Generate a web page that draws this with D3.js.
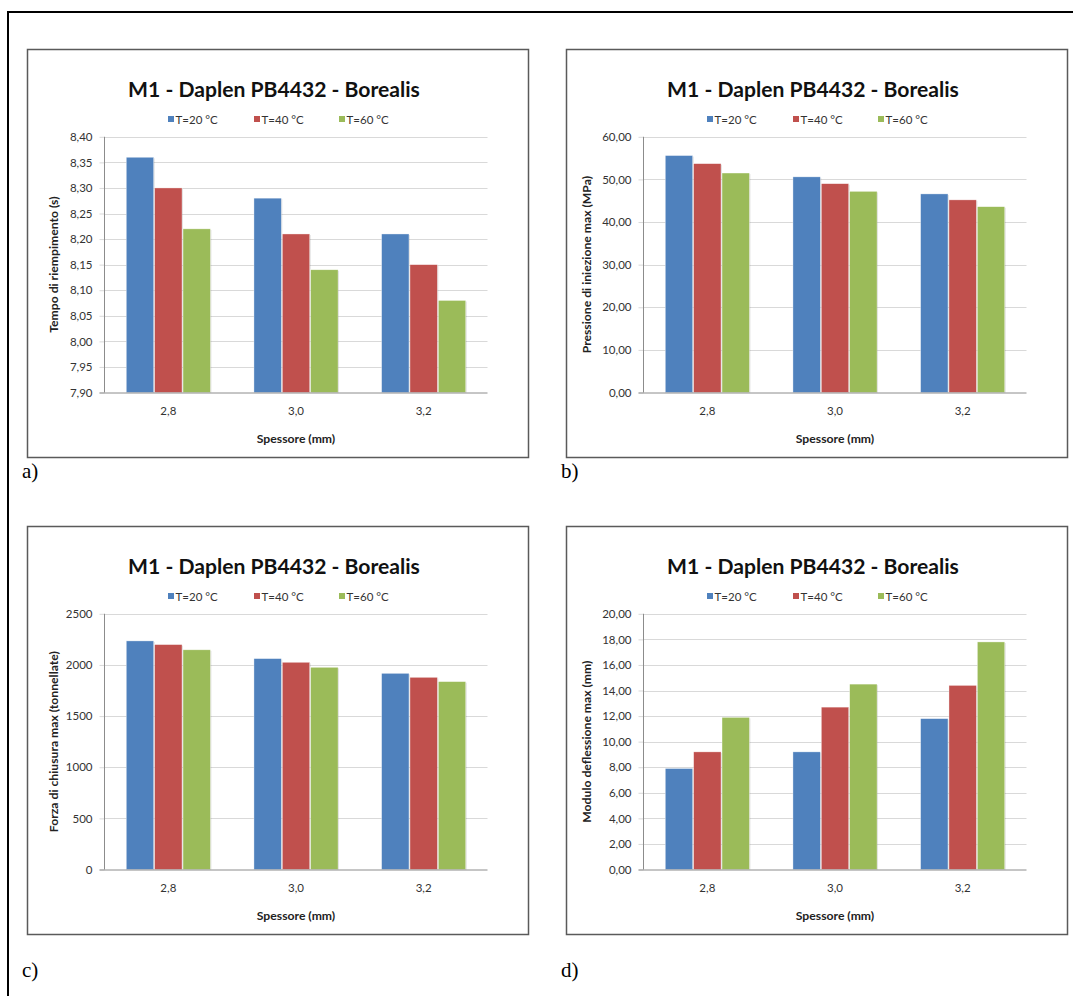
<!DOCTYPE html>
<html>
<head>
<meta charset="utf-8">
<script src="https://cdn.jsdelivr.net/npm/d3@7"></script>
<style>
  html, body { margin: 0; padding: 0; background: #fff; }
  svg { display: block; }
</style>
</head>
<body>
<svg id="root" width="1073" height="996"></svg>
<script>
// ---------- DATA ----------
const categories = ["2,8", "3,0", "3,2"];
const seriesNames = ["T=20 °C", "T=40 °C", "T=60 °C"];
const seriesColors = ["#4F81BD", "#C0504D", "#9BBB59"];

const chartTitle = "M1 - Daplen PB4432 - Borealis";
const xAxisTitle = "Spessore (mm)";

// a) Tempo di riempimento (s)  [series][category]
const tempo20 = [8.36, 8.28, 8.21];
const tempo40 = [8.30, 8.21, 8.15];
const tempo60 = [8.22, 8.14, 8.08];
const tempoTicks = [7.90, 7.95, 8.00, 8.05, 8.10, 8.15, 8.20, 8.25, 8.30, 8.35, 8.40];

// b) Pressione di iniezione max (MPa)
const press20 = [55.6, 50.6, 46.6];
const press40 = [53.7, 49.0, 45.2];
const press60 = [51.5, 47.2, 43.6];
const pressTicks = [0, 10, 20, 30, 40, 50, 60];

// c) Forza di chiusura max (tonnellate)
const forza20 = [2235, 2062, 1918];
const forza40 = [2199, 2026, 1879];
const forza60 = [2148, 1977, 1837];
const forzaTicks = [0, 500, 1000, 1500, 2000, 2500];

// d) Modulo deflessione max (mm)
const defl20 = [7.9, 9.2, 11.8];
const defl40 = [9.2, 12.7, 14.4];
const defl60 = [11.9, 14.5, 17.8];
const deflTicks = [0, 2, 4, 6, 8, 10, 12, 14, 16, 18, 20];

const panelLabels = ["a)", "b)", "c)", "d)"];

// ---------- LAYOUT ----------
const svg = d3.select("#root");
const FONT = "Lato, 'Open Sans', sans-serif";

// outer page frame
svg.append("rect")
  .attr("x", 8).attr("y", 12)
  .attr("width", 1120).attr("height", 1100)
  .attr("fill", "none").attr("stroke", "#000").attr("stroke-width", 2);

const frameW = 501, frameH = 408;
const panels = [
  { x: 27,  y: 49,  yTitle: "Tempo di riempimento (s)", series: [tempo20, tempo40, tempo60], ticks: tempoTicks, fmt: v => d3.format(".2f")(v).replace(".", ","), label: { x: 22, y: 478 } },
  { x: 566, y: 49,  yTitle: "Pressione di iniezione max (MPa)", series: [press20, press40, press60], ticks: pressTicks, fmt: v => d3.format(".2f")(v).replace(".", ","), label: { x: 561, y: 478 } },
  { x: 27,  y: 526, yTitle: "Forza di chiusura max (tonnellate)", series: [forza20, forza40, forza60], ticks: forzaTicks, fmt: v => d3.format("d")(v), label: { x: 22, y: 977 } },
  { x: 566, y: 526, yTitle: "Modulo deflessione max (mm)", series: [defl20, defl40, defl60], ticks: deflTicks, fmt: v => d3.format(".2f")(v).replace(".", ","), label: { x: 561, y: 977 } }
];

const plotL = 77.5, plotR = 460.5, plotT = 87.8, plotB = 343.5;

panels.forEach((p, pi) => {
  const g = svg.append("g").attr("transform", `translate(${p.x},${p.y})`);

  // chart frame
  g.append("rect")
    .attr("x", 0.5).attr("y", 0.5)
    .attr("width", frameW).attr("height", frameH)
    .attr("fill", "#fff").attr("stroke", "#5a5a5a").attr("stroke-width", 1.5);

  const ticks = p.ticks;
  const y = d3.scaleLinear().domain([ticks[0], ticks[ticks.length - 1]]).range([plotB, plotT]);
  const x0 = d3.scaleBand().domain(categories).range([plotL, plotR]).paddingInner(1 / 3).paddingOuter(1 / 6);
  const x1 = d3.scaleBand().domain(seriesNames).range([0, x0.bandwidth()]);

  // tick marks + labels
  const yAxis = d3.axisLeft(y).tickValues(ticks).tickFormat(p.fmt).tickSize(5).tickPadding(7);
  const ya = g.append("g").attr("transform", `translate(${plotL},0)`).call(yAxis);
  ya.select(".domain").remove();
  ya.selectAll(".tick line").attr("stroke", "#d9d9d9");
  ya.selectAll(".tick text").attr("font-family", FONT).attr("font-size", 11.5).attr("fill", "#333");

  // gridlines
  g.append("g").selectAll("line.grid").data(ticks.slice(1)).join("line")
    .attr("x1", plotL).attr("x2", plotR)
    .attr("y1", d => Math.round(y(d)) + 0.5).attr("y2", d => Math.round(y(d)) + 0.5)
    .attr("stroke", "#d9d9d9").attr("stroke-width", 1);

  // bar shadows + bars
  const bars = g.append("g");
  p.series.forEach((vals, si) => {
    bars.selectAll(null).data(vals).join("rect")
      .attr("x", (d, ci) => x0(categories[ci]) + x1(seriesNames[si]) + 1.5)
      .attr("width", x1.bandwidth() - 1)
      .attr("y", d => y(d) + 1)
      .attr("height", d => plotB - y(d) - 1)
      .attr("fill", "#000").attr("opacity", 0.12);
  });
  p.series.forEach((vals, si) => {
    bars.selectAll(null).data(vals).join("rect")
      .attr("x", (d, ci) => x0(categories[ci]) + x1(seriesNames[si]) + 0.5)
      .attr("width", x1.bandwidth() - 1)
      .attr("y", d => y(d))
      .attr("height", d => plotB - y(d))
      .attr("fill", seriesColors[si])
      .attr("stroke", "rgba(255,255,255,0.6)").attr("stroke-width", 0.6);
  });

  // axes lines
  g.append("line").attr("x1", plotL).attr("x2", plotL).attr("y1", plotT).attr("y2", plotB)
    .attr("stroke", "#8c8c8c").attr("stroke-width", 1);
  const xAxis = d3.axisBottom(x0).tickSize(0).tickPadding(14);
  const xa = g.append("g").attr("transform", `translate(0,${plotB})`).call(xAxis);
  xa.select(".domain").attr("stroke", "#8c8c8c").attr("d", `M${plotL - 5},0.5H${plotR}`);
  xa.selectAll(".tick text").attr("font-family", FONT).attr("font-size", 11.5).attr("fill", "#333");

  // x axis title
  g.append("text").attr("x", (plotL + plotR) / 2).attr("y", 394)
    .attr("text-anchor", "middle").attr("font-family", FONT).attr("font-weight", 700)
    .attr("font-size", 12.2).attr("fill", "#222").text(xAxisTitle);

  // y axis title
  const ytX = pi % 2 === 0 ? 26 : 20;
  g.append("text")
    .attr("transform", `translate(${ytX},${(plotT + plotB) / 2}) rotate(-90)`)
    .attr("text-anchor", "middle").attr("dominant-baseline", "central")
    .attr("font-family", FONT).attr("font-weight", 700)
    .attr("font-size", 12.2).attr("fill", "#222").text(p.yTitle);

  // chart title
  const t = g.append("text").attr("x", 247).attr("y", 47.5)
    .attr("text-anchor", "middle").attr("font-family", FONT).attr("font-weight", 700)
    .attr("font-size", 20).attr("fill", "#111").text(chartTitle);
  const len = t.node().getComputedTextLength();
  t.attr("font-size", 20 * 292 / len);

  // legend
  const legX = [141, 227, 312];
  seriesNames.forEach((s, si) => {
    g.append("rect").attr("x", legX[si]).attr("y", 67).attr("width", 6).attr("height", 6)
      .attr("fill", seriesColors[si]);
    g.append("text").attr("x", legX[si] + 7.5).attr("y", 70)
      .attr("dominant-baseline", "central")
      .attr("font-family", FONT).attr("font-size", 11.5).attr("fill", "#333").text(s);
  });

  // panel label
  svg.append("text").attr("x", p.label.x).attr("y", p.label.y)
    .attr("font-family", "'Liberation Serif', 'DejaVu Serif', serif")
    .attr("font-size", 21).attr("fill", "#000").text(panelLabels[pi]);
});
</script>
</body>
</html>
